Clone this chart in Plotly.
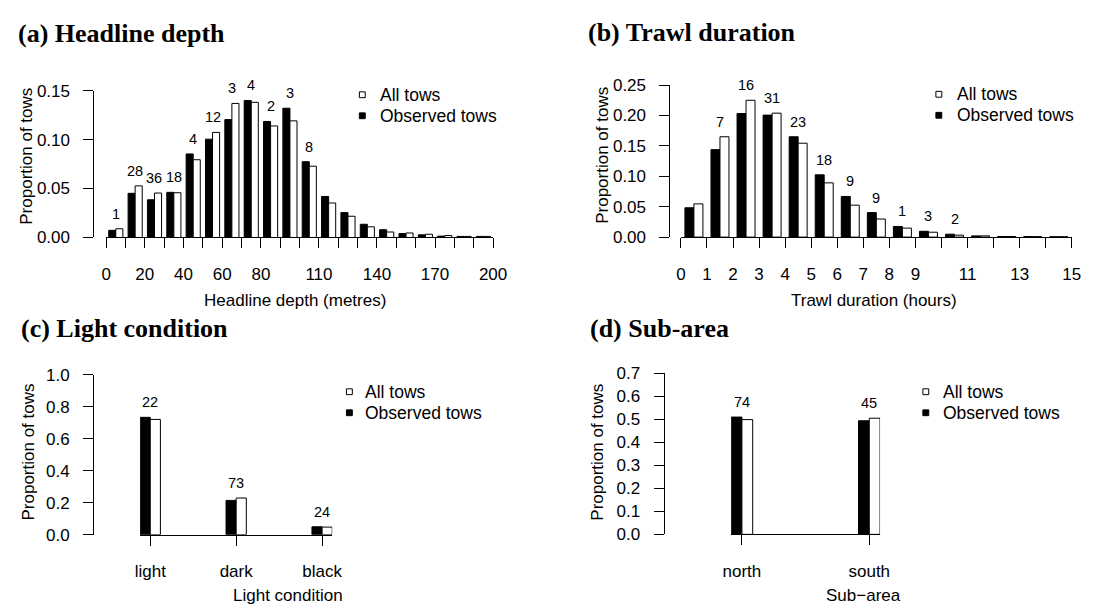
import plotly.graph_objects as go

# target picture is 1097x616; the page body keeps its default 8px margin,
# so the figure itself is 16px smaller and every layout position is shifted by 8px
PAGE_W, PAGE_H = 1097, 616
OFF = 8
W, H = PAGE_W - 2 * OFF, PAGE_H - 2 * OFF

# ---------------- data ----------------
depth_mid = [5, 15, 25, 35, 45, 55, 65, 75, 85, 95, 105, 115, 125, 135, 145, 155, 165, 175, 185, 195]
depth_obs = [0.0073, 0.0451, 0.0385, 0.0461, 0.0853, 0.1004, 0.1204, 0.1399, 0.1185, 0.1320,
             0.0774, 0.0419, 0.0254, 0.0135, 0.0079, 0.0040, 0.0027, 0.0014, 0.0011, 0.0011]
depth_all = [0.0089, 0.0527, 0.0454, 0.0457, 0.0794, 0.1073, 0.1369, 0.1380, 0.1139, 0.1191,
             0.0728, 0.0352, 0.0217, 0.0109, 0.0056, 0.0046, 0.0033, 0.0020, 0.0011, 0.0011]
depth_n = ["1", "28", "36", "18", "4", "12", "3", "4", "2", "3", "8",
           "", "", "", "", "", "", "", "", ""]
depth_ticks = list(range(0, 201, 10))
depth_ticklab = ["0", "", "20", "", "40", "", "60", "", "80", "", "", "110", "", "", "140",
                 "", "", "170", "", "", "200"]

dur_mid = [0.5, 1.5, 2.5, 3.5, 4.5, 5.5, 6.5, 7.5, 8.5, 9.5, 10.5, 11.5, 12.5, 13.5, 14.5]
dur_obs = [0.0482, 0.1438, 0.2032, 0.2006, 0.1650, 0.1024, 0.0669, 0.0403, 0.0175, 0.0095,
           0.0048, 0.0020, 0.0010, 0.0008, 0.0006]
dur_all = [0.0546, 0.1650, 0.2250, 0.2038, 0.1544, 0.0892, 0.0525, 0.0297, 0.0148, 0.0080,
           0.0032, 0.0020, 0.0010, 0.0008, 0.0006]
dur_n = ["", "7", "16", "31", "23", "18", "9", "9", "1", "3", "2", "", "", "", ""]
dur_ticks = list(range(0, 16))
dur_ticklab = ["0", "1", "2", "3", "4", "5", "6", "7", "8", "9", "", "11", "", "13", "", "15"]

light_cat = ["light", "dark", "black"]
light_obs = [0.735, 0.215, 0.050]
light_all = [0.722, 0.230, 0.048]
light_n = ["22", "73", "24"]

area_cat = ["north", "south"]
area_obs = [0.509, 0.493]
area_all = [0.498, 0.504]
area_n = ["74", "45"]

titles = ["(a) Headline depth", "(b) Trawl duration", "(c) Light condition", "(d) Sub-area"]
xtitles = ["Headline depth (metres)", "Trawl duration (hours)", "Light condition", "Sub\u2212area"]
ytitle = "Proportion of tows"
legend_labels = ["All tows", "Observed tows"]

# ---------------- helpers ----------------
SANS = "Liberation Sans, Arial, Helvetica, sans-serif"
SERIF = "Liberation Serif, Times New Roman, serif"
TICKF = 17
TEXTF = 17
LEGF = 17.5


def fx(px):
    return (px - OFF) / W


def fy(py):
    return 1 - (py - OFF) / H


fig = go.Figure()
annotations = []
shapes = []

panels = [
    dict(x=depth_mid, obs=depth_obs, all=depth_all, n=depth_n, bw=3.65,
         xd=(100, 495), xr=[0, 200], xt=depth_ticks, xl=depth_ticklab,
         yx=87, yd=(235.7, 84), yr=[0, 0.15], yt=[0, 0.05, 0.10, 0.15],
         yl=["0.00", "0.05", "0.10", "0.15"]),
    dict(x=dur_mid, obs=dur_obs, all=dur_all, n=dur_n, bw=0.345,
         xd=(686.7, 1085.7), xr=[0, 15], xt=dur_ticks, xl=dur_ticklab,
         yx=675, yd=(235.3, 78.3), yr=[0, 0.25], yt=[0, 0.05, 0.10, 0.15, 0.20, 0.25],
         yl=["0.00", "0.05", "0.10", "0.15", "0.20", "0.25"]),
    dict(x=[0, 1, 2], obs=light_obs, all=light_all, n=light_n, bw=0.118,
         xd=(134.7, 330.8), xr=[-0.118, 2.118], xt=[0, 1, 2], xl=light_cat,
         yx=86.7, yd=(542.7, 377.7), yr=[0, 1.0], yt=[0, 0.2, 0.4, 0.6, 0.8, 1.0],
         yl=["0.0", "0.2", "0.4", "0.6", "0.8", "1.0"]),
    dict(x=[0, 1], obs=area_obs, all=area_all, n=area_n, bw=0.0846,
         xd=(738, 890), xr=[-0.0846, 1.0846], xt=[0, 1], xl=area_cat,
         yx=669, yd=(542.3, 375.7), yr=[0, 0.7], yt=[0, 0.1, 0.2, 0.3, 0.4, 0.5, 0.6, 0.7],
         yl=["0.0", "0.1", "0.2", "0.3", "0.4", "0.5", "0.6", "0.7"]),
]

title_pos = [(8.5, 25), (589.5, 24.5), (11.5, 330), (591.5, 330)]
ytitle_pos = [(18.5, 152), (606.5, 151), (20.5, 457.5), (601.5, 457.5)]
xtitle_pos = [(293, 301), (884, 301), (286, 605), (873, 605)]
legend_pos = [(361.5, 88.3, 377.5), (950, 87.8, 966), (348.3, 395, 362.5), (936.7, 395, 952)]

layout_axes = {}
for i, p in enumerate(panels):
    k = "" if i == 0 else str(i + 1)
    xa, ya = "x" + k, "y" + k
    fig.add_trace(go.Bar(x=p["x"], y=p["obs"], width=p["bw"], offset=-p["bw"],
                         marker=dict(color="black", line=dict(color="black", width=1)),
                         xaxis=xa, yaxis=ya, showlegend=False, name="Observed tows"))
    fig.add_trace(go.Bar(x=p["x"], y=p["all"], width=p["bw"], offset=0,
                         marker=dict(color="white", line=dict(color="black", width=1)),
                         xaxis=xa, yaxis=ya, showlegend=False, name="All tows"))
    layout_axes["xaxis" + k] = dict(
        domain=[fx(p["xd"][0]), fx(p["xd"][1])], range=p["xr"], anchor=ya,
        tickmode="array", tickvals=p["xt"], ticktext=p["xl"],
        ticks="outside", ticklen=10, tickcolor="black", tickwidth=1,
        showline=True, linecolor="black", linewidth=1, showgrid=False, zeroline=False,
        tickfont=dict(family=SANS, size=TICKF, color="black"), ticklabelstandoff=11,
        fixedrange=True)
    layout_axes["yaxis" + k] = dict(
        domain=[fy(p["yd"][0]), fy(p["yd"][1])], range=p["yr"], anchor="free",
        position=fx(p["yx"]), tickmode="array", tickvals=p["yt"], ticktext=p["yl"],
        ticks="outside", ticklen=10, tickcolor="black", tickwidth=1,
        showline=True, linecolor="black", linewidth=1, showgrid=False, zeroline=False,
        tickfont=dict(family=SANS, size=TICKF, color="black"), ticklabelstandoff=10,
        fixedrange=True)
    for xv, o, a, lab in zip(p["x"], p["obs"], p["all"], p["n"]):
        if lab:
            annotations.append(dict(x=xv, y=max(o, a), xref=xa, yref=ya, text=lab,
                                    showarrow=False, yshift=15, yanchor="middle",
                                    font=dict(family=SANS, size=14.5, color="black")))
    tx, ty = title_pos[i]
    annotations.append(dict(x=fx(tx), y=fy(ty), xref="paper", yref="paper", text="<b>" + titles[i] + "</b>",
                            showarrow=False, xanchor="left", yanchor="middle",
                            font=dict(family=SERIF, size=26, color="black")))
    yx_, yy_ = ytitle_pos[i]
    annotations.append(dict(x=fx(yx_), y=fy(yy_), xref="paper", yref="paper", text=ytitle,
                            showarrow=False, textangle=-90, xanchor="center", yanchor="middle",
                            font=dict(family=SANS, size=TEXTF, color="black")))
    xx_, xy_ = xtitle_pos[i]
    annotations.append(dict(x=fx(xx_), y=fy(xy_), xref="paper", yref="paper", text=xtitles[i],
                            showarrow=False, xanchor="center", yanchor="middle",
                            font=dict(family=SANS, size=TEXTF, color="black")))
    sx, sy, tx0 = legend_pos[i]
    for j, (lab, col) in enumerate(zip(legend_labels, ["white", "black"])):
        cy = sy + 21.7 * j
        shapes.append(dict(type="rect", xref="paper", yref="paper",
                           x0=fx(sx - 3), x1=fx(sx + 3), y0=fy(cy + 3), y1=fy(cy - 3),
                           line=dict(color="black", width=1), fillcolor=col))
        annotations.append(dict(x=fx(tx0), y=fy(cy), xref="paper", yref="paper", text=lab,
                                showarrow=False, xanchor="left", yanchor="middle",
                                font=dict(family=SANS, size=LEGF, color="black")))

fig.update_layout(
    width=W, height=H, margin=dict(l=0, r=0, t=0, b=0),
    paper_bgcolor="white", plot_bgcolor="white",
    barmode="overlay", showlegend=False,
    annotations=annotations, shapes=shapes,
    font=dict(family=SANS, color="black"),
    **layout_axes,
)

fig.write_html("out.html", config={"displayModeBar": False})
